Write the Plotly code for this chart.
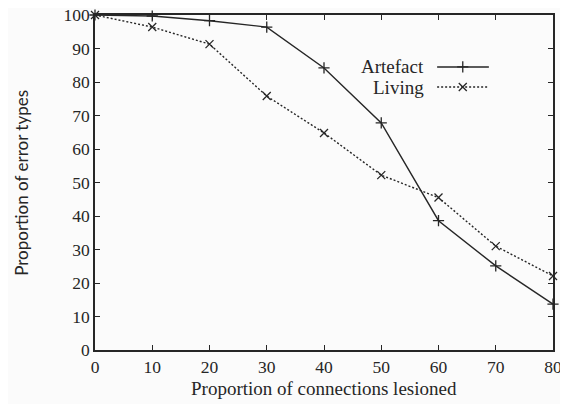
import plotly.graph_objects as go

lesioned = [0, 10, 20, 30, 40, 50, 60, 70, 80]
artefact = [100, 99.7, 98.3, 96.4, 84.2, 67.8, 38.6, 25.1, 13.7]
living = [100, 96.4, 91.3, 75.8, 64.8, 52.2, 45.5, 31.0, 22.1]

x_ticks = [0, 10, 20, 30, 40, 50, 60, 70, 80]
y_ticks = [0, 10, 20, 30, 40, 50, 60, 70, 80, 90, 100]

x_title = "Proportion of connections lesioned"
y_title = "Proportion of error types"

ink = "#262626"
serif = dict(family="Liberation Serif, Times New Roman, serif", color=ink)
sans = dict(family="Lato, Open Sans, sans-serif", color=ink)

fig = go.Figure()
fig.add_trace(go.Scatter(
    x=lesioned, y=artefact, mode="lines+markers", name="Artefact",
    line=dict(color=ink, width=1.4),
    marker=dict(symbol="cross-thin", size=8, line=dict(color=ink, width=1.3)),
    showlegend=False, cliponaxis=False))
fig.add_trace(go.Scatter(
    x=lesioned, y=living, mode="lines+markers", name="Living",
    line=dict(color=ink, width=1.4, dash="2px,2px"),
    marker=dict(symbol="x-thin", size=8, line=dict(color=ink, width=1.3)),
    showlegend=False, cliponaxis=False))

# Manual legend (symbols to the right of labels, gnuplot style)
legend_names = ["Artefact", "Living"]
legend_dash = ["solid", "2px,2px"]
legend_sym = ["cross-thin", "x-thin"]
legend_y = [0.845, 0.785]
for name, dash, sym, ly in zip(legend_names, legend_dash, legend_sym, legend_y):
    fig.add_annotation(xref="paper", yref="paper", x=0.723, y=ly, text=name,
                       showarrow=False, xanchor="right", yanchor="middle",
                       font=dict(size=19, **serif))
    fig.add_trace(go.Scatter(
        x=[0.747, 0.803, 0.86], y=[ly, ly, ly], xaxis="x2", yaxis="y2",
        mode="lines", line=dict(color=ink, width=1.4, dash=dash),
        showlegend=False, hoverinfo="skip"))
    fig.add_trace(go.Scatter(
        x=[0.803], y=[ly], xaxis="x2", yaxis="y2", mode="markers",
        marker=dict(symbol=sym, size=8, line=dict(color=ink, width=1.3)),
        showlegend=False, hoverinfo="skip"))

# Axis titles
fig.add_annotation(xref="paper", yref="paper", x=0.5, y=-0.116, text=x_title,
                   showarrow=False, xanchor="center", yanchor="middle",
                   font=dict(size=19, **serif))
fig.add_annotation(xref="paper", yref="paper", x=-0.161, y=0.5, text=y_title,
                   textangle=-90, showarrow=False, xanchor="center",
                   yanchor="middle", font=dict(size=17, **sans))

axis_common = dict(showline=True, linecolor=ink, linewidth=1.6, mirror="ticks",
                   ticks="inside", ticklen=5, tickcolor=ink, tickwidth=1.2,
                   showgrid=False, zeroline=False, automargin=False,
                   ticklabeloverflow="allow",
                   tickfont=dict(size=17.5, **serif))

# The page body adds an 8px offset, so the figure is 8px smaller.
fig.update_layout(
    template="none",
    width=560, height=396,
    margin=dict(l=87, r=15, t=7, b=54),
    paper_bgcolor="#fbfbfb", plot_bgcolor="#fbfbfb",
    xaxis=dict(range=[0, 80], tickvals=x_ticks, **axis_common),
    yaxis=dict(range=[0, 100], tickvals=y_ticks, **axis_common),
    xaxis2=dict(range=[0, 1], overlaying="x", visible=False),
    yaxis2=dict(range=[0, 1], overlaying="y", visible=False),
)

fig.write_html("out.html")
